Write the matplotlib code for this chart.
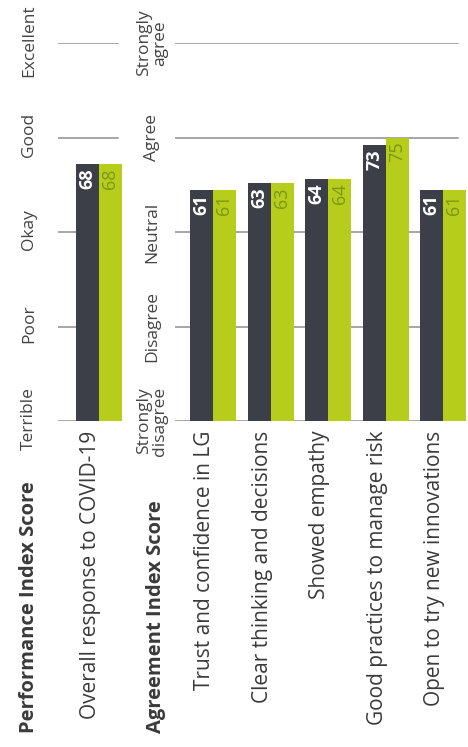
import matplotlib
matplotlib.use("Agg")
import matplotlib.pyplot as plt
import numpy as np

plt.rcParams['font.family'] = ['Open Sans', 'DejaVu Sans']

# performance panel
perf_cats = ['Overall response to COVID-19']
perf_dark = [68]
perf_green = [68]
perf_ticks = ['Terrible', 'Poor', 'Okay', 'Good', 'Excellent']

# agreement panel
agree_cats = ['Trust and confidence in LG', 'Clear thinking and decisions',
              'Showed empathy', 'Good practices to manage risk',
              'Open to try new innovations']
agree_dark = [61, 63, 64, 73, 61]
agree_green = [61, 63, 64, 75, 61]
agree_ticks = ['Strongly\ndisagree', 'Disagree', 'Neutral', 'Agree', 'Strongly\nagree']

DARK = '#3c3f48'
GREEN = '#b6cd1b'
GREEN_TXT = '#7d9619'
GRID = '#8e8e8e'
TXT = '#3a3a3a'
W, H = 468, 747

fig = plt.figure(figsize=(W / 100, H / 100), dpi=100)


def px_axes(left, right, top, bottom):
    return fig.add_axes([left / W, 1 - bottom / H, (right - left) / W, (bottom - top) / H])


def panel(ax, cats, dark, green, ticks, xlim, grid_end, lab_x, lab_dy):
    ax.set_xlim(*xlim)
    ax.set_ylim(0, 100)
    vals = np.arange(0, 101, 25)
    for v in vals:
        ax.axhline(v, xmin=0, xmax=grid_end, color=GRID, lw=1.1, zorder=1)
    x = np.arange(len(cats))
    bw = 0.4
    ax.bar(x - bw / 2, dark, bw, color=DARK, zorder=2)
    ax.bar(x + bw / 2, green, bw, color=GREEN, zorder=2)
    for xi, d, g in zip(x, dark, green):
        ax.annotate(str(d), (xi - bw / 2, d), xytext=(0, -3), textcoords='offset points',
                    rotation=90, ha='center', va='top', color='white',
                    fontsize=13, fontweight='bold')
        ax.annotate(str(g), (xi + bw / 2, g), xytext=(0, -3), textcoords='offset points',
                    rotation=90, ha='center', va='top', color=GREEN_TXT, fontsize=13)
    for xi, c in zip(x, cats):
        ax.annotate(c, (xi, 0), xytext=(-2, -7), textcoords='offset points',
                    rotation=90, rotation_mode='anchor', ha='right', va='baseline',
                    fontsize=15, color=TXT, annotation_clip=False)
    # value scale labels, rotated like the rest of the page
    for v, t in zip(vals, ticks):
        ax.annotate(t, (lab_x, v), xycoords=ax.get_yaxis_transform(),
                    xytext=(0, lab_dy), textcoords='offset points',
                    rotation=90, ha='center', va='center', fontsize=12.5,
                    color='#444444', linespacing=1.0, annotation_clip=False)
    ax.set_xticks([])
    ax.set_yticks([])
    for s in ax.spines.values():
        s.set_visible(False)
    ax.patch.set_alpha(0)


ax1 = px_axes(58, 126, 43, 421)
panel(ax1, perf_cats, perf_dark, perf_green, perf_ticks,
      (-41 / 57.5, 27 / 57.5), 60 / 68, (29 - 58) / 68, 2)

ax2 = px_axes(175, 468, 43, 421)
panel(ax2, agree_cats, agree_dark, agree_green, agree_ticks,
      (-38 / 57.5, 255 / 57.5), 283 / 293, (152 - 175) / 293, 0)

# bold section headers
fig.text(34 / W, 1 - 733 / H, 'Performance Index Score', rotation=90,
         rotation_mode='anchor', ha='left', va='baseline',
         fontsize=14.5, fontweight='bold', color=TXT)
fig.text(161 / W, 1 - 733 / H, 'Agreement Index Score', rotation=90,
         rotation_mode='anchor', ha='left', va='baseline',
         fontsize=14.5, fontweight='bold', color=TXT)

fig.savefig('out.png', dpi=100, facecolor='white')
